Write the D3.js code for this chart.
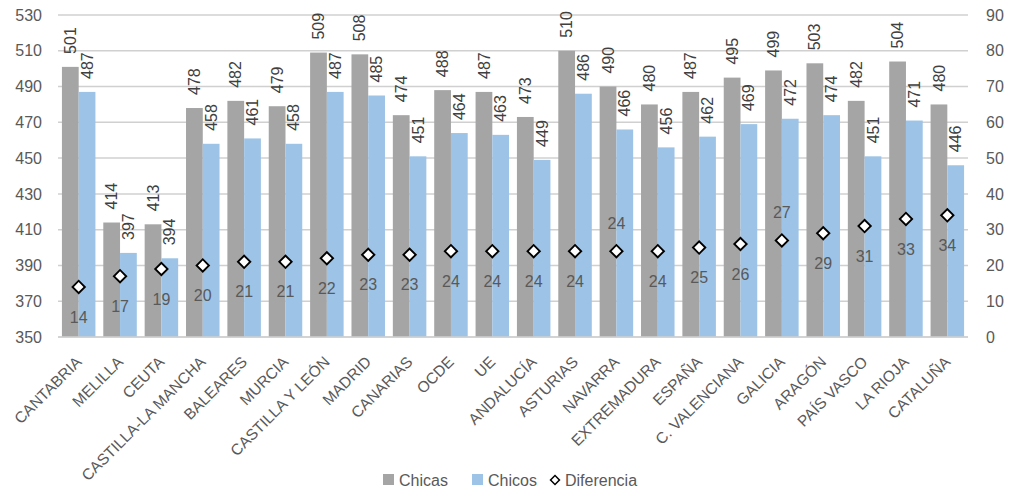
<!DOCTYPE html>
<html><head><meta charset="utf-8">
<script src="https://cdn.jsdelivr.net/npm/d3@7"></script>
<style>
body{margin:0;background:#fff;}
svg{font-family:"Liberation Sans",Arial,sans-serif;}
</style></head>
<body><svg id="c" width="1012" height="491"></svg>
<script>
const categories = ["CANTABRIA","MELILLA","CEUTA","CASTILLA-LA MANCHA","BALEARES","MURCIA","CASTILLA Y LEÓN","MADRID","CANARIAS","OCDE","UE","ANDALUCÍA","ASTURIAS","NAVARRA","EXTREMADURA","ESPAÑA","C. VALENCIANA","GALICIA","ARAGÓN","PAÍS VASCO","LA RIOJA","CATALUÑA"];
const chicas = [501,414,413,478,482,479,509,508,474,488,487,473,510,490,480,487,495,499,503,482,504,480];
const chicos = [487,397,394,458,461,458,487,485,451,464,463,449,486,466,456,462,469,472,474,451,471,446];
const diferencia = [14,17,19,20,21,21,22,23,23,24,24,24,24,24,24,25,26,27,29,31,33,34];
const leftTicks = [350,370,390,410,430,450,470,490,510,530];
const rightTicks = [0,10,20,30,40,50,60,70,80,90];
const difLabelAbove = ["NAVARRA","GALICIA"];

const svg = d3.select("#c");
const L = 58, R = 968, T = 15, B = 337;
const x = d3.scaleBand().domain(categories).range([L, R]).paddingInner(0.19).paddingOuter(0.095);
const xs = d3.scaleBand().domain(["Chicas","Chicos"]).range([0, x.bandwidth()]);
const yL = d3.scaleLinear().domain([350,530]).range([B, T]);
const yR = d3.scaleLinear().domain([0,90]).range([B, T]);
const gray = "#a5a5a5", blue = "#9dc3e6", txt = "#595959", val = "#404040";

// gridlines
svg.append("g").selectAll("line").data(leftTicks).join("line")
  .attr("x1", L).attr("x2", R).attr("y1", d => yL(d)).attr("y2", d => yL(d))
  .attr("stroke", "#d0d0d0").attr("stroke-width", 1.5);

// axes labels
const axL = d3.axisLeft(yL).tickValues(leftTicks).tickSize(0).tickPadding(0);
const gL = svg.append("g").attr("transform", `translate(${L-16},0)`).call(axL);
gL.select(".domain").remove();
gL.selectAll("text").attr("font-size", 16).attr("fill", txt).attr("font-family", "Liberation Sans, Arial");
const axR = d3.axisRight(yR).tickValues(rightTicks).tickSize(0).tickPadding(0);
const gR = svg.append("g").attr("transform", `translate(${R+18},0)`).call(axR);
gR.select(".domain").remove();
gR.selectAll("text").attr("font-size", 16).attr("fill", txt).attr("font-family", "Liberation Sans, Arial");

// bars
const series = [["Chicas", chicas, gray], ["Chicos", chicos, blue]];
series.forEach(([name, vals, col]) => {
  svg.append("g").selectAll("rect").data(categories).join("rect")
    .attr("x", d => x(d) + xs(name)).attr("width", xs.bandwidth())
    .attr("y", (d,i) => yL(vals[i])).attr("height", (d,i) => B - yL(vals[i]))
    .attr("fill", col);
  svg.append("g").selectAll("text").data(categories).join("text")
    .attr("transform", (d,i) => `translate(${x(d) + xs(name) + xs.bandwidth()/2},${yL(vals[i]) - 13}) rotate(-90)`)
    .attr("dy", "0.35em").attr("text-anchor", "start")
    .attr("font-size", 16).attr("fill", val)
    .text((d,i) => vals[i]);
});

// axis line
svg.append("line").attr("x1", L).attr("x2", R).attr("y1", B).attr("y2", B)
  .attr("stroke", "#d0d0d0").attr("stroke-width", 1.5);

// diamonds
const diamond = d3.symbol().type(d3.symbolSquare).size(76);
svg.append("g").selectAll("path").data(categories).join("path")
  .attr("d", diamond)
  .attr("transform", (d,i) => `translate(${x(d) + x.bandwidth()/2},${yR(diferencia[i])}) rotate(45)`)
  .attr("fill", "#fff").attr("stroke", "#000").attr("stroke-width", 1.9);
svg.append("g").selectAll("text").data(categories).join("text")
  .attr("x", d => x(d) + x.bandwidth()/2)
  .attr("y", (d,i) => yR(diferencia[i]) + (difLabelAbove.includes(d) ? -28 : 30))
  .attr("dy", "0.35em").attr("text-anchor", "middle")
  .attr("font-size", 16).attr("fill", txt)
  .text((d,i) => diferencia[i]);

// x labels
svg.append("g").selectAll("text").data(categories).join("text")
  .attr("transform", d => `translate(${x(d) + x.bandwidth()/2 - 4},${B + 18}) rotate(-45)`)
  .attr("dy", "0.72em").attr("text-anchor", "end")
  .attr("font-size", 15.5).attr("fill", txt)
  .text(d => d);

// legend
const lg = svg.append("g").attr("transform", "translate(0,480)");
const items = [["Chicas", gray, 383], ["Chicos", blue, 472], ["Diferencia", null, 549]];
items.forEach(([name, col, lx]) => {
  if (col) {
    lg.append("rect").attr("x", lx).attr("y", -6).attr("width", 11).attr("height", 11).attr("fill", col);
  } else {
    lg.append("path").attr("d", d3.symbol().type(d3.symbolSquare).size(40)())
      .attr("transform", `translate(${lx+6},0) rotate(45)`)
      .attr("fill", "#fff").attr("stroke", "#000").attr("stroke-width", 1.5);
  }
  lg.append("text").attr("x", lx + 16).attr("y", 0).attr("dy", "0.35em")
    .attr("font-size", 16).attr("fill", txt).text(name);
});
</script></body></html>
